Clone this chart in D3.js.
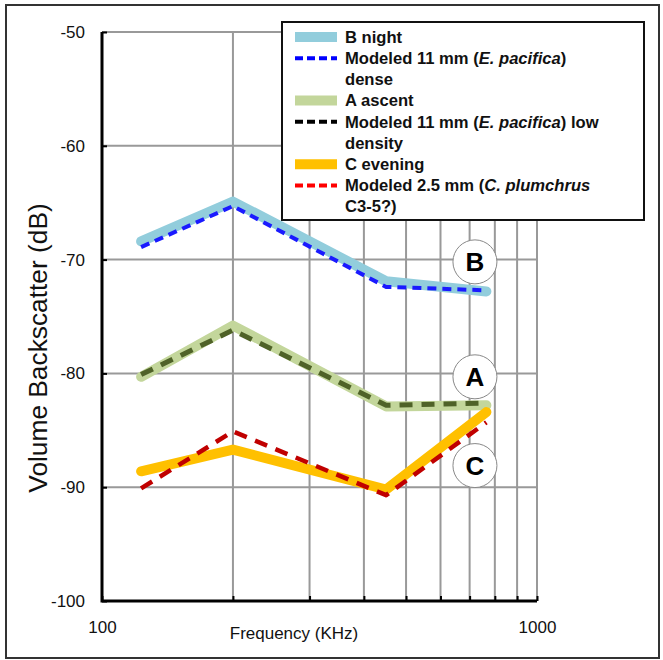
<!doctype html>
<html>
<head>
<meta charset="utf-8">
<script src="https://d3js.org/d3.v7.min.js"></script>
<style>
  body { margin: 0; background: #fff; }
  text { font-family: Arial, "Liberation Sans", sans-serif; }
</style>
</head>
<body>
<svg width="663" height="660" id="chart"></svg>
<script>
    // frequencies (kHz) measured
    var freqs = [123, 200, 450, 765];
    var bNight = [-68.4, -64.9, -71.9, -72.8];
    var bModel = [-68.9, -65.3, -72.4, -72.7];
    var aAscent = [-80.3, -75.8, -82.9, -82.8];
    var aModel = [-80.1, -76.2, -82.8, -82.6];
    var cEvening = [-88.6, -86.7, -90.2, -83.4];
    var cModel = [-90.1, -85.1, -90.7, -84.3];
    var yTicks = [-50, -60, -70, -80, -90, -100];
    var xLabels = [100, 1000];
    var tags = ["B", "A", "C"];

    var svg = d3.select("#chart");

    // outer frame
    svg.append("rect")
       .attr("x", 6).attr("y", 5)
       .attr("width", 653).attr("height", 653)
       .attr("fill", "none")
       .attr("stroke", "#333")
       .attr("stroke-width", 2);

    var x = d3.scaleLog().domain([100, 1000]).range([102, 537]);
    var y = d3.scaleLinear().domain([-100, -50]).range([601, 32]);

    var gridX = d3.range(1, 11).map(function(d) { return d * 100; });

    // grid
    svg.append("g").selectAll("line")
       .data(gridX).enter().append("line")
       .attr("x1", function(d) { return x(d); })
       .attr("x2", function(d) { return x(d); })
       .attr("y1", y(-50)).attr("y2", y(-100))
       .attr("stroke", "#999").attr("stroke-width", 2);
    svg.append("g").selectAll("line")
       .data(yTicks).enter().append("line")
       .attr("x1", x(100)).attr("x2", x(1000))
       .attr("y1", function(d) { return y(d); })
       .attr("y2", function(d) { return y(d); })
       .attr("stroke", "#999").attr("stroke-width", 2);

    // axes
    var yAxis = svg.append("g")
       .attr("transform", "translate(" + x(100) + ",0)")
       .call(d3.axisLeft(y).tickValues(yTicks).tickSizeInner(-5).tickSizeOuter(0).tickPadding(20)
             .tickFormat(function(d) { return String(d); }));
    yAxis.select(".domain").remove();
    yAxis.selectAll("line").attr("stroke", "#000").attr("stroke-width", 2);
    yAxis.selectAll("text").attr("font-size", "17px").attr("fill", "#111").attr("dx", "3");

    var xAxis = svg.append("g")
       .attr("transform", "translate(0," + y(-100) + ")")
       .call(d3.axisBottom(x).tickValues(gridX).tickSizeInner(-5).tickSizeOuter(0)
             .tickFormat(function(d) { return xLabels.indexOf(d) >= 0 ? String(d) : ""; }).tickPadding(20));
    xAxis.select(".domain").remove();
    xAxis.selectAll("line").attr("stroke", "#000").attr("stroke-width", 2);
    xAxis.selectAll("text").attr("font-size", "17px").attr("fill", "#111");

    svg.append("path")
       .attr("d", "M" + x(100) + "," + y(-50) + "V" + y(-100) + "H" + x(1000))
       .attr("fill", "none").attr("stroke", "#000").attr("stroke-width", 3);

    svg.append("text")
       .attr("x", 294).attr("y", 639)
       .attr("text-anchor", "middle")
       .attr("font-size", "17px")
       .attr("fill", "#111")
       .text("Frequency (KHz)");

    svg.append("text")
       .attr("transform", "translate(47,348) rotate(-90)")
       .attr("text-anchor", "middle")
       .attr("font-size", "26.3px")
       .attr("fill", "#111")
       .text("Volume Backscatter (dB)");

    // series
    var line = d3.line()
        .x(function(d) { return x(d[0]); })
        .y(function(d) { return y(d[1]); });

    var series = [
        {v: bNight, color: "#92CDDC", w: 10, dash: null},
        {v: bModel, color: "#1a1aff", w: 4, dash: "9,6"},
        {v: aAscent, color: "#C3D69B", w: 10, dash: null},
        {v: aModel, color: "#4F6228", w: 5, dash: "13,9"},
        {v: cEvening, color: "#FFC000", w: 10, dash: null},
        {v: cModel, color: "#C00000", w: 4.5, dash: "13,9"}
    ];

    series.forEach(function(s) {
        svg.append("path")
           .datum(d3.zip(freqs, s.v))
           .attr("d", line)
           .attr("fill", "none")
           .attr("stroke", s.color)
           .attr("stroke-width", s.w)
           .attr("stroke-linejoin", "round")
           .attr("stroke-linecap", s.dash ? "butt" : "round")
           .attr("stroke-dasharray", s.dash);
    });

    // circled tags
    var tagY = [-70.2, -80.3, -88.1];
    var tg = svg.append("g").selectAll("g")
       .data(tags).enter().append("g")
       .attr("transform", function(d, i) { return "translate(" + x(720) + "," + y(tagY[i]) + ")"; });
    tg.append("circle").attr("r", 22).attr("fill", "#fff").attr("stroke", "#888").attr("stroke-width", 1);
    tg.append("text")
      .attr("text-anchor", "middle").attr("dy", "0.36em")
      .attr("font-size", "26px").attr("font-weight", "bold")
      .text(function(d) { return d; });

    // legend
    var lg = svg.append("g");
    lg.append("rect")
      .attr("x", 282).attr("y", 22).attr("width", 362).attr("height", 198)
      .attr("fill", "#fff").attr("stroke", "#111").attr("stroke-width", 2);

    var legendSwatch = [
        {color: "#92CDDC", w: 10, dash: null},
        {color: "#0000ff", w: 4, dash: "8,4"},
        {color: "#C3D69B", w: 10, dash: null},
        {color: "#000", w: 4, dash: "8,4"},
        {color: "#FFC000", w: 10, dash: null},
        {color: "#ff0000", w: 4, dash: "8,4"}
    ];
    var legendRows = [
        [["B night"]],
        [["Modeled 11 mm (", "E. pacifica", ")"], ["dense"]],
        [["A ascent"]],
        [["Modeled 11 mm (", "E. pacifica", ") low"], ["density"]],
        [["C evening"]],
        [["Modeled 2.5 mm (", "C. plumchrus", ""], ["C3-5?)"]]
    ];
    var rowY = 37, lh = 21.2;
    legendRows.forEach(function(rows, i) {
        var sw = legendSwatch[i];
        lg.append("line")
          .attr("x1", 295).attr("x2", 337)
          .attr("y1", rowY).attr("y2", rowY)
          .attr("stroke", sw.color).attr("stroke-width", sw.w)
          .attr("stroke-dasharray", sw.dash);
        rows.forEach(function(parts) {
            var t = lg.append("text")
              .attr("x", 345).attr("y", rowY).attr("dy", "0.35em")
              .attr("font-size", "16.6px").attr("font-weight", "bold").attr("fill", "#111");
            parts.forEach(function(p, k) {
                t.append("tspan").attr("font-style", k === 1 ? "italic" : "normal").text(p);
            });
            rowY += lh;
        });
    });
</script>
</body>
</html>
